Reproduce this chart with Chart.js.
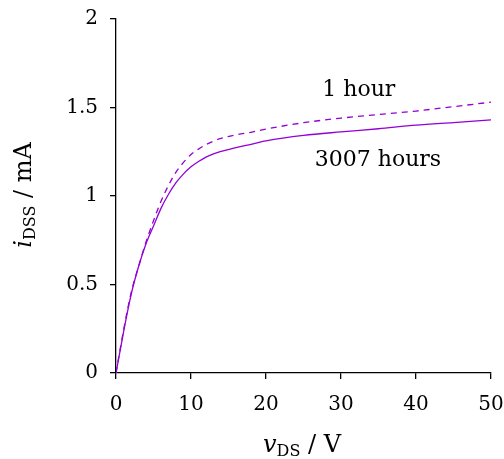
<!DOCTYPE html>
<html>
<head>
<meta charset="utf-8">
<script src="https://cdn.jsdelivr.net/npm/chart.js@4"></script>
<style>
  html, body { margin: 0; padding: 0; background: #fff; }
  #wrap { width: 504px; height: 459px; }
</style>
</head>
<body>
<div id="wrap"><canvas id="chart" width="504" height="459"></canvas></div>
<script>
// drain voltage (V) and drain current (mA)
const vDS = [0, 1, 2, 3, 4, 5, 6, 7, 8, 9, 10, 11, 12, 13, 14, 16, 18, 20, 25, 30, 35, 40, 45, 50];
const iOneHour = [0, 0.24, 0.45, 0.6, 0.74, 0.86, 0.97, 1.06, 1.135, 1.19, 1.235, 1.265, 1.29, 1.31, 1.325, 1.345, 1.36, 1.378, 1.414, 1.44, 1.46, 1.48, 1.505, 1.53];
const iLongRun = [0, 0.23, 0.44, 0.6, 0.73, 0.83, 0.93, 1.01, 1.075, 1.125, 1.165, 1.195, 1.22, 1.238, 1.252, 1.273, 1.292, 1.311, 1.342, 1.362, 1.38, 1.4, 1.415, 1.43];
const seriesNames = ["1 hour", "3007 hours"];
const xTicks = [0, 10, 20, 30, 40, 50];
const yTicks = [0, 0.5, 1, 1.5, 2];

const PURPLE = "#9400d3";
const SERIF = "'DejaVu Serif', 'Liberation Serif', serif";

function pts(ys) {
    return vDS.map((x, i) => ({ x: x, y: ys[i] }));
}

// draws a run of text pieces left to right from (x, y)
function richText(ctx, parts, x, y) {
    let cx = x;
    parts.forEach(p => {
        ctx.font = p.font;
        ctx.fillText(p.text, cx, y + (p.dy || 0));
        cx += ctx.measureText(p.text).width;
    });
    return cx - x;
}

function richWidth(ctx, parts) {
    let w = 0;
    parts.forEach(p => { ctx.font = p.font; w += ctx.measureText(p.text).width; });
    return w;
}

const axisTitles = {
    id: "axisTitles",
    afterDraw(chart) {
        const ctx = chart.ctx;
        ctx.save();
        ctx.fillStyle = "#000";
        ctx.textBaseline = "alphabetic";

        const xParts = [
            { text: "v", font: "italic 24px " + SERIF },
            { text: "DS", font: "16px " + SERIF, dy: 4 },
            { text: " / V", font: "24px " + SERIF }
        ];
        const xw = richWidth(ctx, xParts);
        richText(ctx, xParts, 302 - xw / 2, 452);

        const yParts = [
            { text: "i", font: "italic 24px " + SERIF },
            { text: "DSS", font: "16px " + SERIF, dy: 4 },
            { text: " / mA", font: "24px " + SERIF }
        ];
        const yw = richWidth(ctx, yParts);
        ctx.translate(31, 195);
        ctx.rotate(-Math.PI / 2);
        richText(ctx, yParts, -yw / 2, 0);
        ctx.restore();

        // curve labels
        const xs = chart.scales.x, ys = chart.scales.y;
        ctx.save();
        ctx.fillStyle = "#000";
        ctx.font = "22px " + SERIF;
        ctx.textBaseline = "middle";
        ctx.textAlign = "left";
        ctx.fillText(seriesNames[0], xs.getPixelForValue(27.5), ys.getPixelForValue(1.6));
        ctx.fillText(seriesNames[1], xs.getPixelForValue(26.5), ys.getPixelForValue(1.203));
        ctx.restore();
    }
};

const tickFont = { family: SERIF, size: 20 };

new Chart(document.getElementById("chart"), {
    type: "line",
    data: {
        datasets: [
            {
                label: seriesNames[0],
                data: pts(iOneHour),
                borderColor: PURPLE,
                borderWidth: 1.3,
                borderDash: [6, 5],
                pointRadius: 0,
                cubicInterpolationMode: "monotone"
            },
            {
                label: seriesNames[1],
                data: pts(iLongRun),
                borderColor: PURPLE,
                borderWidth: 1.3,
                pointRadius: 0,
                cubicInterpolationMode: "monotone"
            }
        ]
    },
    options: {
        responsive: false,
        animation: false,
        layout: { padding: { left: 0, top: 19, right: 0, bottom: 0 } },
        plugins: { legend: { display: false }, tooltip: { enabled: false } },
        scales: {
            x: {
                type: "linear",
                min: 0,
                max: 50,
                afterFit(s) { s.height = 86; s.paddingLeft = 0; s.paddingRight = 13; },
                afterBuildTicks(s) { s.ticks = xTicks.map(v => ({ value: v })); },
                ticks: { color: "#000", font: tickFont, padding: 14, maxRotation: 0,
                         callback: v => String(v) },
                grid: { drawOnChartArea: false, drawTicks: true, tickLength: 6, color: "#000", lineWidth: 1.3 },
                border: { color: "#000", width: 1.3 }
            },
            y: {
                type: "linear",
                min: 0,
                max: 2,
                afterFit(s) { s.width = 116; s.paddingTop = 0; s.paddingBottom = 0; },
                afterBuildTicks(s) { s.ticks = yTicks.map(v => ({ value: v })); },
                ticks: { color: "#000", font: tickFont, padding: 12,
                         callback: v => String(v) },
                grid: { drawOnChartArea: false, drawTicks: true, tickLength: 6, color: "#000", lineWidth: 1.3 },
                border: { color: "#000", width: 1.3 }
            }
        }
    },
    plugins: [axisTitles]
});
</script>
</body>
</html>
